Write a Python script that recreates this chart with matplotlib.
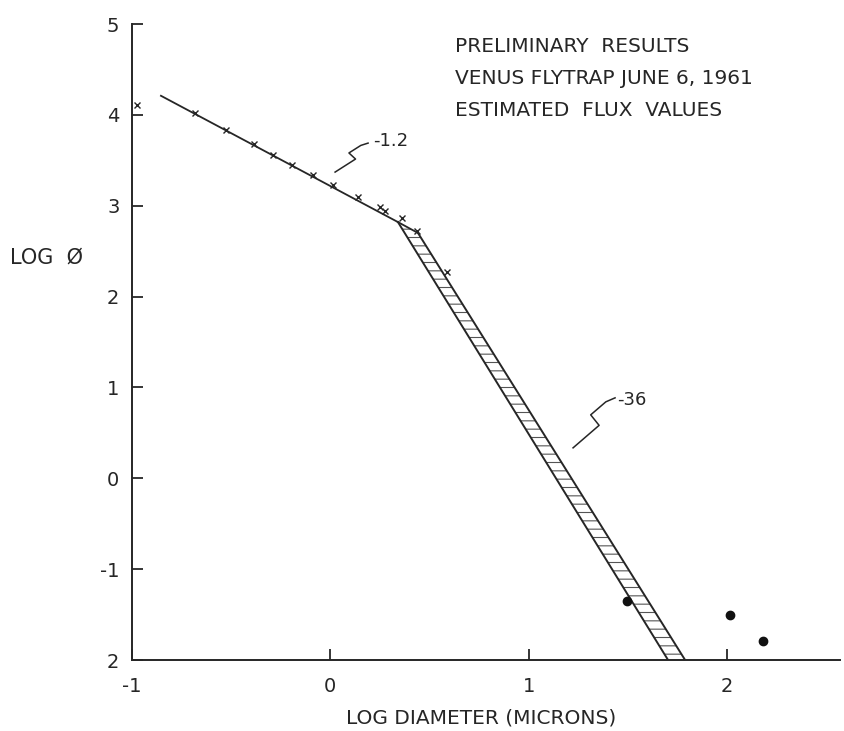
import matplotlib
matplotlib.use("Agg")
import matplotlib.pyplot as plt
from matplotlib.transforms import ScaledTranslation

plt.rcParams['font.family'] = ['DejaVu Sans']
plt.rcParams['hatch.linewidth'] = 0.8

INK = '#262626'

# fitted line, slope about -1.2
line_x = [-0.854, 0.341]
line_y = [4.21, 2.82]
# hatched band, slope about -3.6
band_left_x = [0.341, 1.703]
band_left_y = [2.82, -2.0]
band_right_x = [0.442, 1.789]
band_right_y = [2.70, -2.0]

# measured points (x marks)
cross_x = [-0.975, -0.682, -0.526, -0.385, -0.287, -0.195, -0.086, 0.015,
           0.141, 0.251, 0.276, 0.360, 0.436, 0.588]
cross_y = [4.11, 4.02, 3.83, 3.68, 3.56, 3.45, 3.34, 3.23,
           3.10, 2.99, 2.94, 2.86, 2.72, 2.27]
# large particles (dots)
dot_x = [1.496, 2.016, 2.18]
dot_y = [-1.35, -1.50, -1.79]

xticks = [-1, 0, 1, 2]
xticklabels = ['-1', '0', '1', '2']
yticks = [5, 4, 3, 2, 1, 0, -1, -2]
yticklabels = ['5', '4', '3', '2', '1', '0', '-1', '2']

title_lines = ['PRELIMINARY  RESULTS', 'VENUS FLYTRAP JUNE 6, 1961',
               'ESTIMATED  FLUX  VALUES']


def squiggle(ax, fig, x, y, w, h):
    # hand drawn "slope" sign, size in inches
    sx = [0, 0.62, 0.42, 0.78, 1.0]
    sy = [0, 0.45, 0.66, 0.92, 1.0]
    tr = fig.dpi_scale_trans + ScaledTranslation(x, y, ax.transData)
    ax.plot([v * w for v in sx], [v * h for v in sy], color=INK,
            lw=1.1, transform=tr, clip_on=False)


fig = plt.figure(figsize=(8.45, 7.31), dpi=100)
ax = fig.add_axes([132 / 845, 71 / 731, 708 / 845, 636 / 731])

ax.plot(line_x, line_y, color=INK, lw=1.3)
ax.plot(band_left_x, band_left_y, color=INK, lw=1.4)
ax.plot(band_right_x, band_right_y, color=INK, lw=1.4)
ax.plot([band_left_x[0], band_right_x[0]], [band_left_y[0], band_right_y[0]],
        color=INK, lw=1.3)
ax.fill([band_left_x[0], band_right_x[0], band_right_x[1], band_left_x[1]],
        [band_left_y[0], band_right_y[0], band_right_y[1], band_left_y[1]],
        facecolor='none', edgecolor='#555555', hatch='--', lw=0)

ax.plot(cross_x, cross_y, ls='none', marker='x', ms=5, mew=1.0, color=INK,
        clip_on=False)
ax.plot(dot_x, dot_y, ls='none', marker='o', ms=6, color='#111111')

ax.set_xlim(-1, 2.57)
ax.set_ylim(-2, 5)
ax.set_xticks(xticks)
ax.set_xticklabels(xticklabels)
ax.set_yticks(yticks)
ax.set_yticklabels(yticklabels)
for s in ['top', 'right']:
    ax.spines[s].set_visible(False)
for s in ['left', 'bottom']:
    ax.spines[s].set_linewidth(1.4)
    ax.spines[s].set_color(INK)
ax.tick_params(direction='in', length=8, width=1.3, color=INK,
               labelsize=14, labelcolor=INK)
ax.tick_params(axis='x', pad=12)
ax.tick_params(axis='y', pad=9)

# slope annotations
squiggle(ax, fig, 0.024, 3.37, 0.33, 0.29)
ax.text(0.215, 3.71, '-1.2', fontsize=13, color=INK, va='center')
squiggle(ax, fig, 1.224, 0.335, 0.42, 0.5)
ax.text(1.446, 0.86, '-36', fontsize=13, color=INK, va='center')

fig.text(10 / 845, 1 - 258 / 731, 'LOG  Ø', fontsize=15, color=INK,
         va='center', ha='left')
fig.text(481 / 845, 1 - 718 / 731, 'LOG DIAMETER (MICRONS)', fontsize=14.5,
         color=INK, va='center', ha='center')
for i, t in enumerate(title_lines):
    fig.text(455 / 845, 1 - (47 + 31.5 * i) / 731, t, fontsize=14.5,
             color=INK, va='center', ha='left')

fig.savefig('out.png', dpi=100, facecolor='white')
